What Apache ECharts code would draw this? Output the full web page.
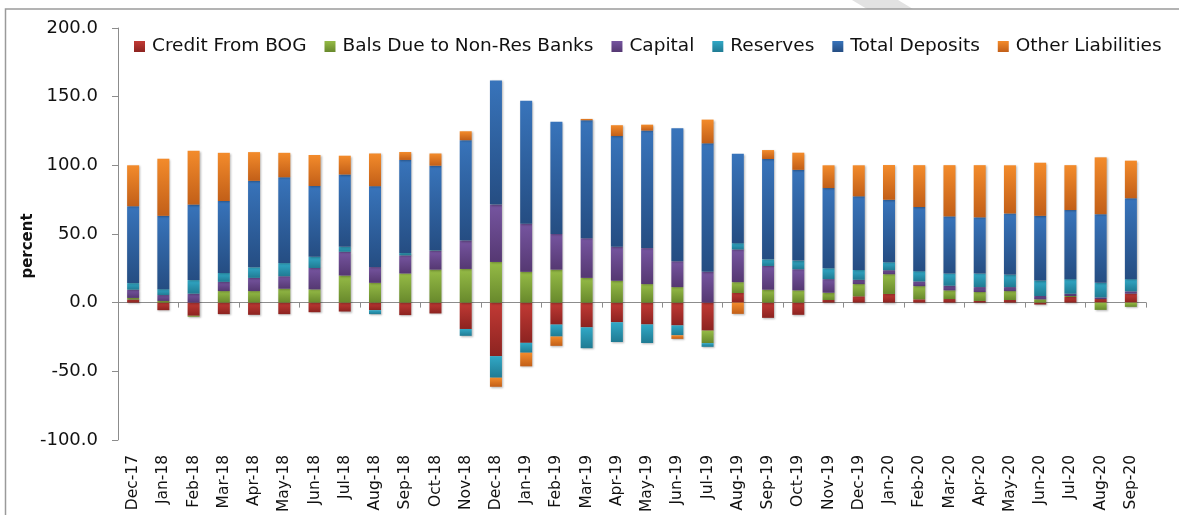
<!DOCTYPE html>
<html>
<head>
<meta charset="utf-8">
<title>Liabilities composition</title>
<script src="https://cdn.jsdelivr.net/npm/echarts@6/dist/echarts.min.js"></script>
<style>
  html, body { margin: 0; padding: 0; background: #fff; }
  #chart { width: 1179px; height: 515px; }
</style>
</head>
<body>
<div id="chart"></div>
<script>
// Month labels, Dec-17 to Sep-20
const categories = [
  'Dec-17','Jan-18','Feb-18','Mar-18','Apr-18','May-18','Jun-18','Jul-18','Aug-18','Sep-18','Oct-18','Nov-18',
  'Dec-18','Jan-19','Feb-19','Mar-19','Apr-19','May-19','Jun-19','Jul-19','Aug-19','Sep-19','Oct-19','Nov-19',
  'Dec-19','Jan-20','Feb-20','Mar-20','Apr-20','May-20','Jun-20','Jul-20','Aug-20','Sep-20'
];

// Contributions in percent
const creditFromBOG = [
  2.2, -5.5, -9.6, -8.4, -8.9, -8.4, -7.0, -6.5, -5.5, -9.1, -7.9, -19.2,
  -39.0, -29.3, -16.0, -18.0, -14.3, -15.9, -16.6, -20.4, 7.0, -11.1, -8.9, 1.9,
  4.6, 6.3, 2.4, 2.6, 1.2, 1.9, -1.4, 4.1, 2.6, 6.5
];
const balsDueNonRes = [
  1.2, 1.2, -0.7, 8.4, 8.4, 10.1, 9.6, 19.7, 14.4, 21.2, 24.0, 24.5,
  29.6, 22.4, 24.0, 18.0, 15.9, 13.5, 11.3, -9.1, 7.9, 9.4, 8.9, 5.3,
  8.9, 14.4, 9.6, 6.3, 6.5, 6.5, 2.4, 0.7, -5.3, -3.1
];
const capital = [
  6.0, 4.3, 6.5, 6.7, 9.6, 9.1, 15.6, 17.3, 11.5, 13.2, 13.9, 20.7,
  41.8, 35.1, 26.0, 28.9, 24.8, 26.2, 18.8, 22.4, 23.8, 17.3, 15.4, 9.9,
  3.1, 2.9, 3.4, 3.4, 3.6, 2.9, 2.4, 1.7, 1.2, 1.7
];
const reserves = [
  4.8, 4.3, 9.9, 6.5, 7.7, 9.6, 8.2, 3.6, -2.9, 1.7, 0.5, -5.0,
  -15.7, -7.2, -8.7, -15.2, -14.4, -13.5, -7.2, -2.7, 4.6, 4.8, 6.3, 7.9,
  7.2, 5.8, 7.5, 8.9, 9.9, 9.1, 11.3, 10.6, 10.6, 8.9
];
const totalDeposits = [
  56.0, 53.4, 55.0, 52.4, 63.0, 62.5, 51.5, 52.7, 58.9, 67.8, 61.3, 73.1,
  90.4, 89.5, 81.8, 85.9, 80.6, 85.6, 96.9, 93.6, 65.2, 73.1, 66.1, 58.4,
  53.6, 45.5, 46.7, 41.6, 40.9, 44.5, 47.1, 50.3, 50.0, 58.9
];
const otherLiabilities = [
  29.8, 41.6, 39.2, 35.1, 20.9, 17.8, 22.6, 13.7, 23.8, 5.8, 8.9, 6.5,
  -6.6, -9.9, -6.8, 1.0, 7.9, 4.3, -2.6, 17.3, -8.2, 6.5, 12.5, 16.6,
  22.6, 25.3, 30.5, 37.3, 38.0, 35.1, 38.7, 32.7, 41.4, 27.4
];

// Value axis ticks
const yTicks = { min: -100, max: 200, step: 50 };

const chart = echarts.init(document.getElementById('chart'), null, { renderer: 'canvas' });

function shade(top, bottom) {
  return new echarts.graphic.LinearGradient(0, 0, 0, 1, [
    { offset: 0, color: top },
    { offset: 1, color: bottom }
  ]);
}

const seriesDefs = [
  { name: 'Credit From BOG',          data: creditFromBOG,    top: '#c23a35', bottom: '#8c2320' },
  { name: 'Bals Due to Non-Res Banks', data: balsDueNonRes,   top: '#95bb46', bottom: '#68892c' },
  { name: 'Capital',                  data: capital,          top: '#7655a0', bottom: '#553872' },
  { name: 'Reserves',                 data: reserves,         top: '#31a8c6', bottom: '#207b93' },
  { name: 'Total Deposits',           data: totalDeposits,    top: '#3874bb', bottom: '#254d82' },
  { name: 'Other Liabilities',        data: otherLiabilities, top: '#f38b2b', bottom: '#c25f18' }
];

const axisGrey = '#8c8c8c';
const fontMain = 'DejaVu Sans';

const option = {
  animation: false,
  backgroundColor: '#ffffff',
  grid: { left: 118, right: 33, top: 28, bottom: 73, containLabel: false },
  legend: {
    left: 129,
    top: 32,
    icon: 'rect',
    itemWidth: 11,
    itemHeight: 11,
    itemGap: 18,
    textStyle: { fontFamily: fontMain, fontSize: 18.5, color: '#111', padding: [0, 0, 0, 2] },
    data: seriesDefs.map(s => s.name)
  },
  xAxis: [
    {
      type: 'category',
      data: categories,
      position: 'bottom',
      axisLine: { show: false, onZero: false },
      axisTick: { show: false },
      axisLabel: {
        interval: 0,
        rotate: 90,
        margin: 15,
        fontFamily: fontMain,
        fontSize: 15.5,
        color: '#111'
      }
    },
    {
      type: 'category',
      data: categories,
      position: 'bottom',
      axisLine: { show: true, onZero: true, lineStyle: { color: axisGrey, width: 1 } },
      axisTick: { show: true, length: 5, lineStyle: { color: axisGrey } },
      axisLabel: { show: false }
    }
  ],
  yAxis: {
    type: 'value',
    min: yTicks.min,
    max: yTicks.max,
    interval: yTicks.step,
    axisLine: { show: true, lineStyle: { color: axisGrey, width: 1 } },
    axisTick: { show: true, length: 6, lineStyle: { color: axisGrey } },
    splitLine: { show: false },
    axisLabel: {
      margin: 20,
      fontFamily: fontMain,
      fontSize: 18,
      color: '#111',
      formatter: v => v.toFixed(1)
    }
  },
  graphic: [
    {
      type: 'text',
      x: 28,
      y: 246,
      rotation: Math.PI / 2,
      style: {
        text: 'percent',
        font: 'bold 15px "DejaVu Sans"',
        fill: '#111',
        textAlign: 'center',
        textVerticalAlign: 'middle'
      }
    },
    {
      type: 'polygon',
      silent: true,
      z: -1,
      shape: { points: [[852, 0], [898, 0], [913, 9], [867, 9]] },
      style: { fill: '#e2e2e2' }
    },
    {
      type: 'polyline',
      silent: true,
      shape: { points: [[1179, 9], [5.5, 9], [5.5, 515]] },
      style: { stroke: '#9a9a9a', lineWidth: 1.5, fill: null }
    }
  ],
  series: seriesDefs.map(s => ({
    name: s.name,
    type: 'bar',
    stack: 'total',
    xAxisIndex: 0,
    yAxisIndex: 0,
    barWidth: 12,
    data: s.data,
    itemStyle: {
      color: shade(s.top, s.bottom),
      shadowColor: 'rgba(0,0,0,0.28)',
      shadowBlur: 2,
      shadowOffsetX: 1,
      shadowOffsetY: 1
    },
    emphasis: { disabled: true }
  }))
};

chart.setOption(option);
</script>
</body>
</html>
